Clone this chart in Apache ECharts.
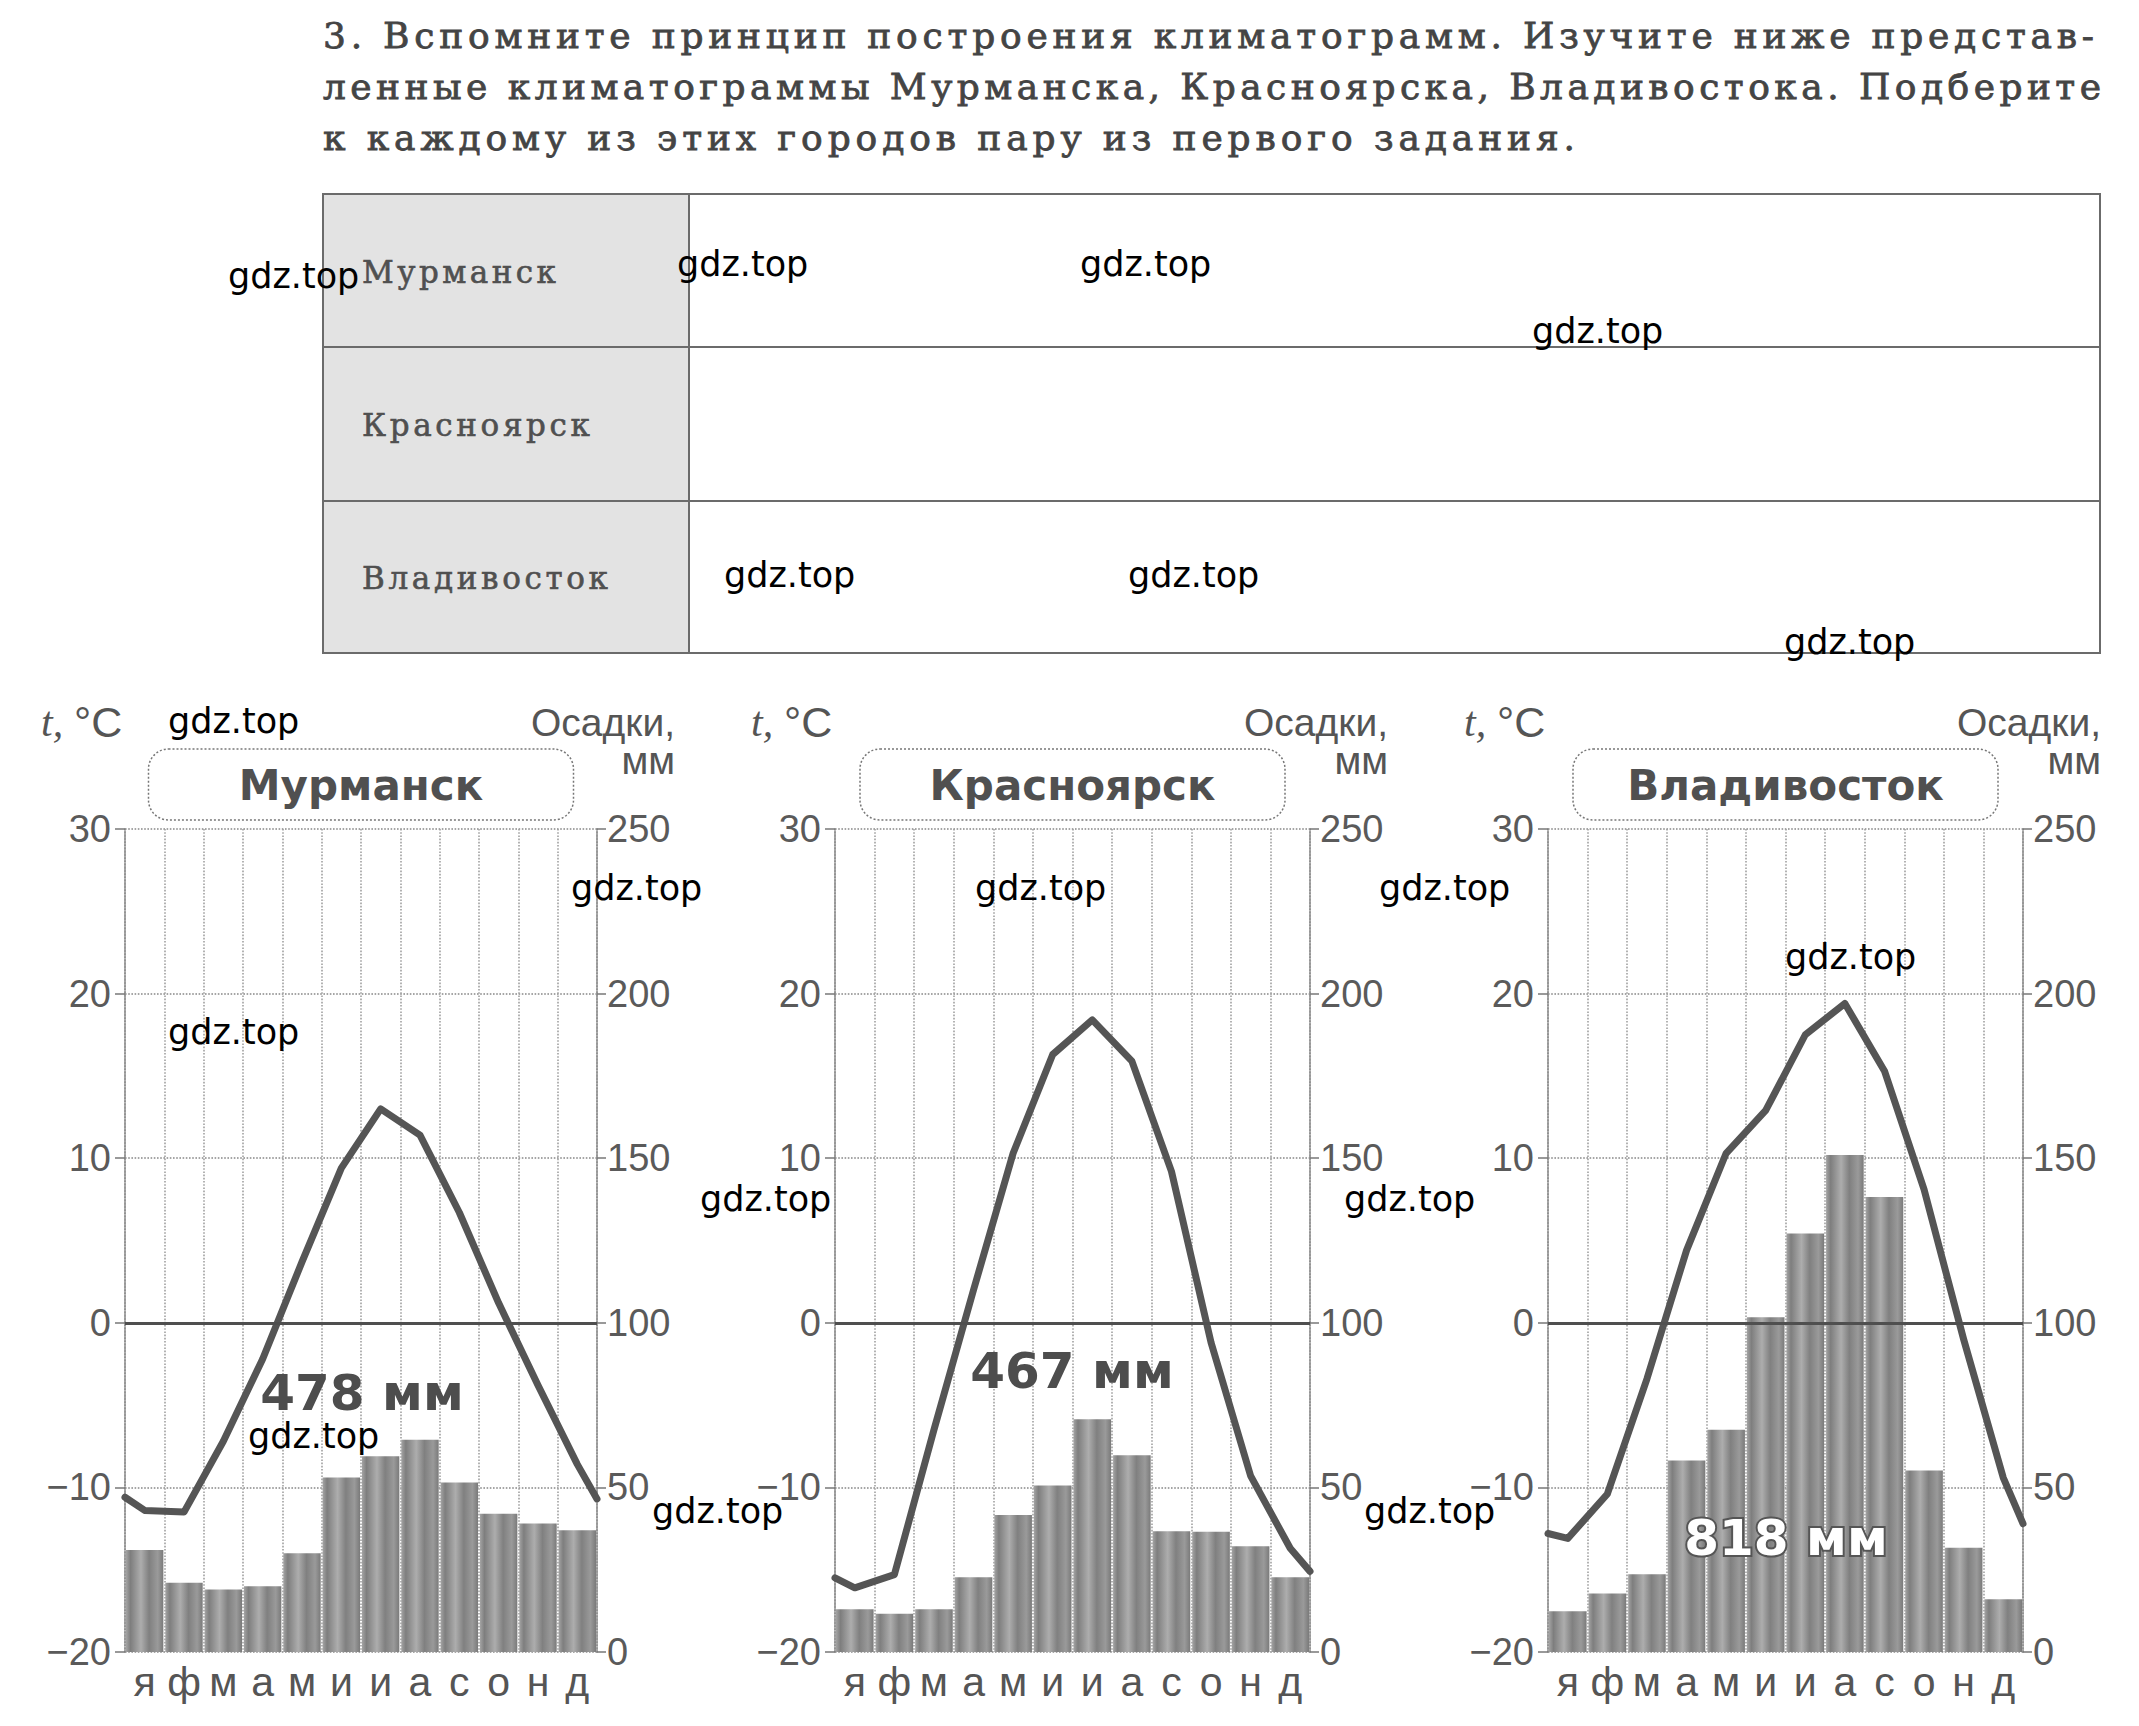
<!DOCTYPE html>
<html><head><meta charset="utf-8">
<script src="https://cdn.jsdelivr.net/npm/echarts@6/dist/echarts.min.js"></script>
<style>
html,body{margin:0;padding:0;background:#fff;}
#page{position:relative;width:2139px;height:1726px;overflow:hidden;background:#fff;}
.hl{position:absolute;left:323px;font-family:"DejaVu Serif";font-size:36px;color:#444;white-space:nowrap;line-height:36px;-webkit-text-stroke:0.8px #444;}
.cell{position:absolute;background:#6b6b6b;}
.rl{position:absolute;left:362px;font-family:"DejaVu Serif";font-size:31px;color:#505050;white-space:nowrap;line-height:31px;-webkit-text-stroke:0.6px #505050;}
#chart{position:absolute;left:0;top:0;width:2139px;height:1726px;}
</style></head>
<body><div id="page">
<div class="hl" id="h1" style="top:18px">3. Вспомните принцип построения климатограмм. Изучите ниже представ-</div>
<div class="hl" id="h2" style="top:69px">ленные климатограммы Мурманска, Красноярска, Владивостока. Подберите</div>
<div class="hl" id="h3" style="top:120px">к каждому из этих городов пару из первого задания.</div>
<div style="position:absolute;left:323px;top:193px;width:366px;height:460px;background:#e3e3e3;"></div>
<div class="cell" style="left:323px;top:193px;width:1778px;height:2px;"></div>
<div class="cell" style="left:323px;top:346px;width:1778px;height:2px;"></div>
<div class="cell" style="left:323px;top:500px;width:1778px;height:2px;"></div>
<div class="cell" style="left:323px;top:652px;width:1778px;height:2px;"></div>
<div class="cell" style="left:322px;top:193px;width:2px;height:461px;"></div>
<div class="cell" style="left:688px;top:193px;width:2px;height:461px;"></div>
<div class="cell" style="left:2099px;top:193px;width:2px;height:461px;"></div>
<div class="rl" id="r1" style="top:257px">Мурманск</div>
<div class="rl" id="r2" style="top:410px">Красноярск</div>
<div class="rl" id="r3" style="top:563px">Владивосток</div>
<div id="chart"></div>
</div>
<script>
// ---- data ----
const monthLabels = ['я','ф','м','а','м','и','и','а','с','о','н','д'];
const cityNames = ['Мурманск','Красноярск','Владивосток'];
const tempMin = -20, tempMax = 30, tempStep = 10;
const precipMin = 0, precipMax = 250, precipStep = 50;

const murmanskTemp = [-11.4,-11.5,-7.2,-2.2,3.7,9.4,13.0,11.4,6.7,1.2,-3.8,-8.6];
const murmanskTempEdges = [-10.6,-10.7];
const murmanskPrecip = [31,21,19,20,30,53,59.5,64.5,51.5,42,39,37];
const murmanskTotal = '478 мм';

const krasTemp = [-16.1,-15.3,-6.5,2.0,10.3,16.3,18.4,15.9,9.2,-1.2,-9.3,-13.7];
const krasTempEdges = [-15.5,-15.1];
const krasPrecip = [13,11.6,13,22.7,41.6,50.6,70.7,59.8,36.7,36.5,32.1,22.7];
const krasTotal = '467 мм';

const vladTemp = [-13.1,-10.4,-3.4,4.4,10.3,12.9,17.5,19.4,15.3,8.1,-1.0,-9.4];
const vladTempEdges = [-12.8,-12.2];
const vladPrecip = [12.4,17.8,23.6,58.2,67.5,101.7,127.1,151,138.2,55.1,31.7,16];
const vladTotal = '818 мм';

const watermark = 'gdz.top';

// ---- layout ----
function fit(id, target){
  const el = document.getElementById(id);
  el.style.letterSpacing = '0px';
  const w = el.getBoundingClientRect().width;
  const n = el.textContent.length;
  el.style.letterSpacing = ((target - w)/(n-1)) + 'px';
}
fit('h1',1771); fit('h2',1778); fit('h3',1252);
fit('r1',194); fit('r2',228); fit('r3',246);

const temps = [murmanskTemp, krasTemp, vladTemp];
const edges = [murmanskTempEdges, krasTempEdges, vladTempEdges];
const precs = [murmanskPrecip, krasPrecip, vladPrecip];
const totals = [murmanskTotal, krasTotal, vladTotal];

const gLeft = [125, 835, 1548], gWidth = [472, 475, 475], gTop = 829, gHeight = 823;
const totalPos = [[362,1393],[1072,1371],[1786,1538]];
const wmPos = [[228,276],[677,264],[1080,264],[1532,331],[724,575],[1128,575],[1784,642],[168,721],[571,888],[975,888],[1379,888],[1785,957],[168,1032],[700,1199],[1344,1199],[248,1436],[652,1511],[1364,1511]];

const barColor = {type:'linear',x:0,y:0,x2:1,y2:0,colorStops:[
  {offset:0,color:'#a4a4a4'},{offset:0.12,color:'#7e7e7e'},{offset:0.4,color:'#adadad'},
  {offset:0.62,color:'#808080'},{offset:0.85,color:'#9a9a9a'},{offset:1,color:'#7a7a7a'}]};

const dotted = c => ({color:c, type:'dotted', width:1.6});
const fmtT = v => v < 0 ? '\u2212' + Math.abs(v) : String(v);

const grid=[], xAxis=[], yAxis=[], series=[], graphic=[];
for (let i=0;i<3;i++){
  grid.push({left:gLeft[i], top:gTop, width:gWidth[i], height:gHeight});
  xAxis.push({gridIndex:i, type:'category', data:monthLabels, boundaryGap:true,
    axisLine:{show:true, lineStyle:dotted('#888')}, axisTick:{show:false},
    axisLabel:{interval:0, fontSize:41, color:'#555', fontFamily:'Liberation Sans', margin:9},
    splitLine:{show:true, interval:0, lineStyle:dotted('#a0a0a0')}});
  xAxis.push({gridIndex:i, type:'value', min:0, max:monthLabels.length, show:false});
  yAxis.push({gridIndex:i, type:'value', position:'left', min:tempMin, max:tempMax, interval:tempStep,
    axisLine:{show:true, lineStyle:dotted('#888')}, axisTick:{show:true, length:10, lineStyle:{color:'#777', width:1.5}},
    axisLabel:{fontSize:38, color:'#5a5a5a', fontFamily:'Liberation Sans', margin:14, formatter:fmtT},
    splitLine:{show:true, lineStyle:dotted('#888')}});
  yAxis.push({gridIndex:i, type:'value', position:'right', min:precipMin, max:precipMax, interval:precipStep,
    axisLine:{show:true, lineStyle:dotted('#888')}, axisTick:{show:true, length:9, lineStyle:{color:'#777', width:1.5}},
    axisLabel:{fontSize:38, color:'#5a5a5a', fontFamily:'Liberation Sans', margin:10},
    splitLine:{show:false}});
  series.push({type:'line', xAxisIndex:2*i, yAxisIndex:2*i, data:[], z:1,
    markLine:{silent:true, symbol:['none','none'], label:{show:false}, animation:false,
      lineStyle:{color:'#4f4f4f', width:3, type:'solid'}, data:[{yAxis:0}]}});
  series.push({type:'bar', xAxisIndex:2*i, yAxisIndex:2*i+1, data:precs[i], barCategoryGap:'5%',
    itemStyle:{color:barColor}, z:2});
  const pts = [[0, edges[i][0]]];
  temps[i].forEach((t,k)=>pts.push([k+0.5, t]));
  pts.push([monthLabels.length, edges[i][1]]);
  series.push({type:'line', xAxisIndex:2*i+1, yAxisIndex:2*i, data:pts, symbol:'none', z:3,
    lineStyle:{color:'#555', width:7, join:'round', cap:'round'}});

  const L = gLeft[i], W = gWidth[i], cx = L + W/2;
  graphic.push({type:'rect', shape:{x:cx-212.5, y:749, width:425, height:71, r:20},
    style:{fill:'#fff', stroke:'#777', lineWidth:1.5, lineDash:[2,2]}, z:10});
  graphic.push({type:'text', x:cx, y:785, z:11, style:{text:cityNames[i], fill:'#505050',
    font:'bold 42px "DejaVu Sans"', textAlign:'center', textVerticalAlign:'middle'}});
  graphic.push({type:'text', x:L-84, y:722, z:11, style:{text:'t,', fill:'#555',
    font:'italic 42px "Liberation Serif"', textAlign:'left', textVerticalAlign:'middle'}});
  graphic.push({type:'text', x:L-51, y:722, z:11, style:{text:'°C', fill:'#555',
    font:'43px "Liberation Sans"', textAlign:'left', textVerticalAlign:'middle'}});
  graphic.push({type:'text', x:L+W+78, y:722, z:11, style:{text:'Осадки,', fill:'#555',
    font:'39px "Liberation Sans"', textAlign:'right', textVerticalAlign:'middle'}});
  graphic.push({type:'text', x:L+W+78, y:760, z:11, style:{text:'мм', fill:'#555',
    font:'39px "Liberation Sans"', textAlign:'right', textVerticalAlign:'middle'}});
  const isWhite = i === 2;
  graphic.push({type:'text', x:totalPos[i][0], y:totalPos[i][1], z:12, style:{text:totals[i],
    fill: isWhite ? '#fff' : '#4d4d4d', stroke: isWhite ? '#555' : null, lineWidth: isWhite ? 4 : 0,
    font:'bold 50px "DejaVu Sans"', textAlign:'center', textVerticalAlign:'middle'}});
}
wmPos.forEach(p => graphic.push({type:'text', x:p[0], y:p[1], z:20, style:{text:watermark, fill:'#000',
  font:'35px "DejaVu Sans"', textAlign:'left', textVerticalAlign:'middle'}}));

const chart = echarts.init(document.getElementById('chart'), null, {renderer:'svg'});
chart.setOption({animation:false, backgroundColor:'transparent', grid, xAxis, yAxis, series, graphic});
</script>
</body></html>
